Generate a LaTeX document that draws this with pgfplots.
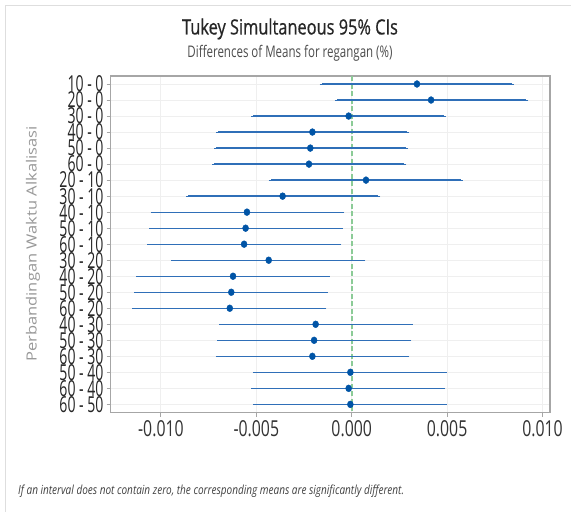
\documentclass[border=0pt]{standalone}
\usepackage{fontspec}
\setmainfont{Open Sans}
\newfontfamily\tickfont[FakeStretch=0.72]{Open Sans}
\newfontfamily\ytickfont[FakeStretch=0.64]{Open Sans}
\newfontfamily\titlefont[FakeStretch=0.78,FakeBold=0.6]{Open Sans}
\newfontfamily\notefont[FakeStretch=0.8]{Open Sans}
\usepackage{pgfplots}
\usepackage{pgfplotstable}
\pgfplotsset{compat=1.18}

\definecolor{ciblue}{HTML}{2F6FB8}
\definecolor{dotblue}{HTML}{0054A6}
\definecolor{refgreen}{HTML}{8CCB97}
\definecolor{framegray}{HTML}{A6A6A6}
\definecolor{gridgray}{HTML}{EFEFEF}

% row, mean difference, lower and upper limit
\pgfplotstableread{
y  x         lo        hi
1  0.00342  -0.00157   0.00839
2  0.00416  -0.00079   0.00915
3  -0.00016 -0.00515   0.00482
4  -0.00206 -0.00702   0.00292
5  -0.00217 -0.00711   0.00285
6  -0.00224 -0.00720   0.00276
7  0.00075  -0.00425   0.00571
8  -0.00362 -0.00856   0.00140
9  -0.00549 -0.01043  -0.00049
10 -0.00556 -0.01050  -0.00058
11 -0.00564 -0.01060  -0.00065
12 -0.00435 -0.00935   0.00061
13 -0.00622 -0.01120  -0.00126
14 -0.00631 -0.01129  -0.00135
15 -0.00639 -0.01139  -0.00143
16 -0.00189 -0.00685   0.00309
17 -0.00197 -0.00694   0.00302
18 -0.00206 -0.00702   0.00292
19 -0.00007 -0.00507   0.00489
20 -0.00016 -0.00515   0.00480
21 -0.00007 -0.00507   0.00489
}\cidata

\begin{document}
\begin{tikzpicture}[x=1pt,y=1pt]
\useasboundingbox[fill=white] (0,0) rectangle (571,512);
\draw[black!13, line width=1pt] (5,0) -- (5,506) -- (571,506);

\node[font=\titlefont\fontsize{21}{21}\selectfont, text=black!85] at (290,483) {Tukey Simultaneous 95\% CIs};
\node[font=\tickfont\fontsize{16}{16}\selectfont, text=black!70] at (290,459) {Differences of Means for regangan (\%)};
\node[rotate=90, font=\fontsize{16.5}{17}\selectfont, text=black!40] at (33,268) {\scalebox{1}[0.85]{Perbandingan Waktu Alkalisasi}};
\node[anchor=west, inner sep=0pt, font=\notefont\itshape\fontsize{12.5}{13}\selectfont, text=black!75] at (18,21)
  {If an interval does not contain zero, the corresponding means are significantly different.};

\begin{axis}[
    at={(110.7pt,99.3pt)}, anchor=south west,
    scale only axis,
    width=439.3pt, height=336.7pt,
    xmin=-0.012631, xmax=0.010393,
    ymin=0.5, ymax=21.52,
    y dir=reverse,
    scaled x ticks=false,
    xtick={-0.01,-0.005,0,0.005,0.01},
    xticklabels={-0.010,-0.005,0.000,0.005,0.010},
    ytick={1,...,21},
    yticklabels={10 - 0,20 - 0,30 - 0,40 - 0,50 - 0,60 - 0,20 - 10,30 - 10,40 - 10,50 - 10,60 - 10,30 - 20,40 - 20,50 - 20,60 - 20,40 - 30,50 - 30,60 - 30,50 - 40,60 - 40,60 - 50},
    xtick pos=bottom, ytick pos=left,
    tick align=outside,
    major tick length=4pt,
    tick style={framegray, line width=0.8pt},
    axis line style={framegray, line width=1.3pt},
    grid=major,
    major grid style={gridgray, line width=0.8pt},
    xticklabel style={font=\tickfont\fontsize{22}{22}\selectfont, text=black!80},
    yticklabel style={font=\ytickfont\fontsize{22}{22}\selectfont, text=black!85, inner xsep=3pt},
]
\addplot[refgreen, line width=1.8pt, dash pattern=on 5pt off 2.5pt] coordinates {(0,0.5) (0,21.52)};
\addplot[ciblue, line width=1.3pt, only marks, mark=none,
    error bars/.cd, x dir=both, x explicit,
    error bar style={ciblue, line width=1.3pt},
    error mark options={ciblue, mark size=2pt, line width=0.8pt}]
  table[x=x, y=y, x error plus expr=\thisrow{hi}-\thisrow{x}, x error minus expr=\thisrow{x}-\thisrow{lo}] {\cidata};
\addplot[only marks, mark=*, mark size=3pt, mark options={draw=dotblue, fill=dotblue, yscale=1.15}]
  table[x=x, y=y] {\cidata};
\end{axis}
\end{tikzpicture}
\end{document}
